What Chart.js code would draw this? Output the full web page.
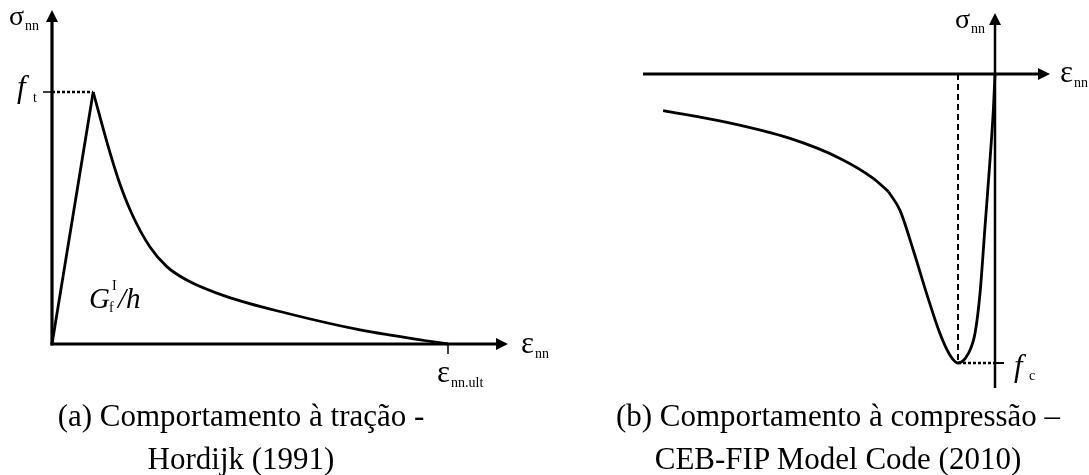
<!DOCTYPE html>
<html><head><meta charset="utf-8">
<script src="https://cdn.jsdelivr.net/npm/chart.js@4/dist/chart.umd.min.js"></script>
<style>
html,body{margin:0;padding:0;background:#fff;}
#wrap{position:relative;width:1089px;height:475px;overflow:hidden;background:#fff;}
#c{position:absolute;left:0;top:0;}
.cap{position:absolute;top:394px;font-family:"Liberation Serif","Times New Roman",serif;font-size:31px;line-height:43px;color:#000;text-align:center;white-space:nowrap;}
</style></head><body>
<div id="wrap">
<canvas id="c" width="1089" height="475"></canvas>
<div class="cap" style="left:0;width:482px;">(a) Comportamento à tração -<br>Hordijk (1991)</div>
<div class="cap" style="left:588px;width:500px;">(b) Comportamento à compressão –<br>CEB-FIP Model Code (2010)</div>
</div>
<script>
// ---- Data (normalised: tension by f_t / eps_ult, compression by f_c / eps_c1) ----
const riseStrain   = [0, 0.104];
const riseStress   = [0, 1.0];
const softStrain   = [0.104, 0.142, 0.168, 0.201, 0.247, 0.290, 0.340, 0.441, 0.593, 0.778, 1.0];
const softStress   = [1.0, 0.783, 0.651, 0.519, 0.386, 0.307, 0.254, 0.188, 0.122, 0.056, 0.0];
const tailStrain   = [-8.97, -7.34, -5.54, -4.19, -3.29, -2.88];
const tailStress   = [-0.127, -0.165, -0.223, -0.292, -0.361, -0.407];
const mainStrain   = [-2.88, -2.57, -2.21, -1.85, -1.49, -1.22, -1.0, -0.72, -0.54, -0.405, -0.27, -0.135, -0.045, 0];
const mainStress   = [-0.407, -0.471, -0.609, -0.759, -0.897, -0.972, -1.0, -0.967, -0.897, -0.759, -0.528, -0.298, -0.125, 0];
const tensionPeak  = [0.104, 1.0];   // (strain, f_t)
const compPeak     = [-1.0, -1.0];   // (eps_c1, f_c)
const ultStrain    = 1.0;            // eps_nn.ult
const axisLabels   = ['σ', 'ε', 'nn'];
const tickLabels   = ['f', 't', 'c', 'nn.ult'];
const areaLabel    = ['G', 'f', 'I', '/h'];

const pts = (xs, ys) => xs.map((x, i) => ({x, y: ys[i]}));
const SERIF = '"Liberation Serif","Times New Roman",serif';

function arrowLine(ctx, x1, y1, x2, y2, lw, len, hw) {
  const a = Math.atan2(y2 - y1, x2 - x1);
  const bx = x2 - len * Math.cos(a), by = y2 - len * Math.sin(a);
  ctx.lineWidth = lw;
  ctx.beginPath(); ctx.moveTo(x1, y1); ctx.lineTo(bx, by); ctx.stroke();
  ctx.beginPath(); ctx.moveTo(x2, y2);
  ctx.lineTo(bx + hw * Math.sin(a), by - hw * Math.cos(a));
  ctx.lineTo(bx - hw * Math.sin(a), by + hw * Math.cos(a));
  ctx.closePath(); ctx.fill();
}
function txt(ctx, s, x, y, font) {
  ctx.font = font; ctx.textAlign = 'left'; ctx.textBaseline = 'alphabetic';
  ctx.fillText(s, x, y); return ctx.measureText(s).width;
}
function seg(ctx, x1, y1, x2, y2, lw, dash) {
  ctx.save(); ctx.lineWidth = lw; ctx.setLineDash(dash || []);
  ctx.beginPath(); ctx.moveTo(x1, y1); ctx.lineTo(x2, y2); ctx.stroke(); ctx.restore();
}

const axesExtent = { aX: 1.1515, aY: 1.3254, bXmin: -9.514, bXmax: 1.486, bYmin: -1.0865, bYmax: 0.211 };

const diagramPlugin = {
  id: 'diagram',
  beforeDatasetsDraw(chart) {
    const {ctx, scales: s} = chart;
    ctx.save(); ctx.strokeStyle = '#000'; ctx.fillStyle = '#000'; ctx.lineCap = 'butt';
    const X0a = s.xa.getPixelForValue(0), Y0a = s.ya.getPixelForValue(0);
    arrowLine(ctx, X0a - 1.5, Y0a, s.xa.getPixelForValue(axesExtent.aX), Y0a, 3.2, 12, 6);
    arrowLine(ctx, X0a, Y0a + 1.5, X0a, s.ya.getPixelForValue(axesExtent.aY), 3.2, 12, 6);
    const X0b = s.xb.getPixelForValue(0), Y0b = s.yb.getPixelForValue(0);
    arrowLine(ctx, s.xb.getPixelForValue(axesExtent.bXmin), Y0b, s.xb.getPixelForValue(axesExtent.bXmax), Y0b, 3.2, 12, 6);
    arrowLine(ctx, X0b, s.yb.getPixelForValue(axesExtent.bYmin), X0b, s.yb.getPixelForValue(axesExtent.bYmax), 2.5, 12, 6);
    const ftY = s.ya.getPixelForValue(tensionPeak[1]);
    seg(ctx, X0a, ftY, s.xa.getPixelForValue(tensionPeak[0]), ftY, 2.5, [3, 2]);
    seg(ctx, X0a - 9, ftY, X0a, ftY, 1.5);
    const ultX = s.xa.getPixelForValue(ultStrain);
    seg(ctx, ultX, Y0a, ultX, Y0a + 10, 1.5);
    const cx = s.xb.getPixelForValue(compPeak[0]), cy = s.yb.getPixelForValue(compPeak[1]);
    seg(ctx, cx, Y0b, cx, cy, 2, [6, 4]);
    seg(ctx, cx, cy, X0b, cy, 2.5, [3, 2]);
    seg(ctx, X0b, cy, X0b + 9, cy, 2);
    ctx.restore();
  },
  afterDatasetsDraw(chart) {
    const {ctx, scales: s} = chart;
    ctx.save(); ctx.fillStyle = '#000';
    const big = '28px ' + SERIF, eps = '31px ' + SERIF, small = '14px ' + SERIF, ital = 'italic 31px ' + SERIF, itb = 'italic 29px ' + SERIF;
    const X0a = s.xa.getPixelForValue(0), Y0a = s.ya.getPixelForValue(0);
    const tipA = s.ya.getPixelForValue(axesExtent.aY), xTipA = s.xa.getPixelForValue(axesExtent.aX);
    let w = txt(ctx, axisLabels[0], X0a - 43, tipA + 15, big);
    txt(ctx, axisLabels[2], X0a - 43 + w + 1, tipA + 20, small);
    const ftY = s.ya.getPixelForValue(tensionPeak[1]);
    txt(ctx, tickLabels[0], X0a - 35, ftY + 5, ital);
    txt(ctx, tickLabels[1], X0a - 19, ftY + 10, small);
    w = txt(ctx, axisLabels[1], xTipA + 13, Y0a + 9, eps);
    txt(ctx, axisLabels[2], xTipA + 13 + w + 1, Y0a + 14, small);
    const ultX = s.xa.getPixelForValue(ultStrain);
    w = txt(ctx, axisLabels[1], ultX - 11, Y0a + 38, eps);
    txt(ctx, tickLabels[3], ultX - 11 + w + 1, Y0a + 43, small);
    const gx = X0a + 37, gy = Y0a - 36;
    w = txt(ctx, areaLabel[0], gx, gy, itb);
    txt(ctx, areaLabel[1], gx + w - 1, gy + 4, small);
    txt(ctx, areaLabel[2], gx + w + 2, gy - 18, small);
    txt(ctx, areaLabel[3], gx + w + 8, gy, itb);
    const X0b = s.xb.getPixelForValue(0), Y0b = s.yb.getPixelForValue(0);
    const tipB = s.yb.getPixelForValue(axesExtent.bYmax), xTipB = s.xb.getPixelForValue(axesExtent.bXmax);
    w = txt(ctx, axisLabels[0], X0b - 40, tipB + 15, big);
    txt(ctx, axisLabels[2], X0b - 40 + w + 1, tipB + 20, small);
    w = txt(ctx, axisLabels[1], xTipB + 10, Y0b + 8, eps);
    txt(ctx, axisLabels[2], xTipB + 10 + w + 1, Y0b + 13, small);
    const cy = s.yb.getPixelForValue(compPeak[1]);
    txt(ctx, tickLabels[0], X0b + 19, cy + 13, ital);
    txt(ctx, tickLabels[2], X0b + 34, cy + 17, small);
    ctx.restore();
  }
};

const line = (data, xID, yID, smooth) => ({
  data, xAxisID: xID, yAxisID: yID, showLine: true, borderColor: '#000', borderWidth: 2.8,
  pointRadius: 0, fill: false, clip: false,
  cubicInterpolationMode: smooth ? 'monotone' : 'default', tension: 0
});

new Chart(document.getElementById('c'), {
  type: 'scatter',
  data: { datasets: [
    line(pts(riseStrain, riseStress), 'xa', 'ya', false),
    line(pts(softStrain, softStress), 'xa', 'ya', true),
    line(pts(tailStrain, tailStress), 'xb', 'yb', true),
    line(pts(mainStrain, mainStress), 'xb', 'yb', true)
  ]},
  options: {
    responsive: false, animation: false, devicePixelRatio: 1,
    layout: { padding: 0 },
    plugins: { legend: { display: false }, tooltip: { enabled: false }, title: { display: false } },
    events: [],
    scales: {
      xa: { type: 'linear', axis: 'x', display: false, min: -0.13131, max: 2.61869 },
      ya: { type: 'linear', axis: 'y', display: false, min: -0.51984, max: 1.36508 },
      xb: { type: 'linear', axis: 'x', display: false, min: -26.8919, max: 2.5405 },
      yb: { type: 'linear', axis: 'y', display: false, min: -1.38754, max: 0.25606 }
    }
  },
  plugins: [diagramPlugin]
});
</script>
</body></html>
